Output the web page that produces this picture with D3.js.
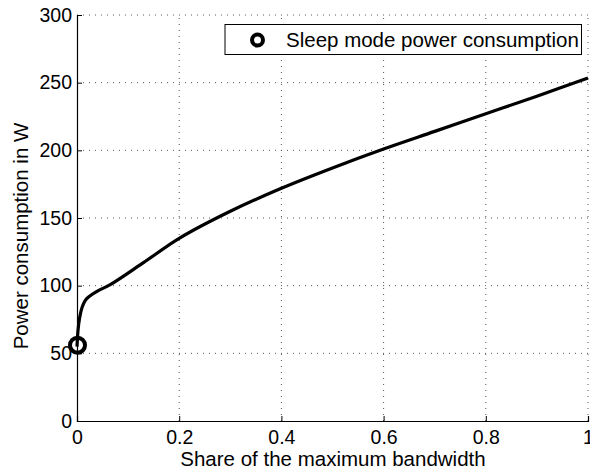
<!DOCTYPE html>
<html><head><meta charset="utf-8">
<script src="https://cdn.jsdelivr.net/npm/d3@7"></script>
<style>body{margin:0;background:#fff}svg{display:block}text{font-family:"Liberation Sans",Arial,sans-serif;fill:#000}</style>
</head><body><svg id="c" width="590" height="469"></svg>
<script>
const shareValues = [0, 0.002, 0.005, 0.01, 0.016, 0.022, 0.04, 0.065, 0.13, 0.2, 0.3, 0.4, 0.5, 0.6, 0.7, 0.8, 0.9, 1.0];
const powerValues = [55, 67, 76, 84, 89, 91.5, 96, 100.7, 117, 135, 155, 172, 187, 201, 214, 227, 240, 253.5];
const sleepPoint = [0, 56];
const xTicks = [0, 0.2, 0.4, 0.6, 0.8, 1];
const yTicks = [0, 50, 100, 150, 200, 250, 300];
const xLabel = "Share of the maximum bandwidth";
const yLabel = "Power consumption in W";
const legendLabel = "Sleep mode power consumption";

const svg = d3.select("#c");
const x = d3.scaleLinear().domain([0, 1]).range([77, 588]);
const y = d3.scaleLinear().domain([0, 300]).range([421, 15]);

// grid
const g = svg.append("g");
g.selectAll(".gx").data(xTicks.filter(d => d > 0)).enter().append("line")
  .attr("x1", d => x(d)).attr("x2", d => x(d)).attr("y1", y(0)).attr("y2", y(300))
  .attr("stroke", "#555").attr("stroke-width", 1).attr("stroke-dasharray", "1,5");
g.selectAll(".gy").data(yTicks.filter(d => d > 0)).enter().append("line")
  .attr("x1", x(0)).attr("x2", x(1)).attr("y1", d => y(d)).attr("y2", d => y(d))
  .attr("stroke", "#555").attr("stroke-width", 1).attr("stroke-dasharray", "1,5");

// axes
const xAxis = svg.append("g").attr("transform", `translate(0,${y(0)})`)
  .call(d3.axisBottom(x).tickValues(xTicks).tickFormat(d => d === 0 || d === 1 ? String(d) : d3.format(".1f")(d)).tickSize(-5).tickPadding(11));
const yAxis = svg.append("g").attr("transform", `translate(${x(0)},0)`)
  .call(d3.axisLeft(y).tickValues(yTicks).tickSize(-5).tickPadding(5));
[xAxis, yAxis].forEach(a => {
  a.select(".domain").attr("stroke", "#000").attr("stroke-width", 1.2);
  a.selectAll(".tick line").attr("stroke", "#000");
  a.selectAll(".tick text").style("font-size", "19.5px").style("font-family", '"Liberation Sans",Arial,sans-serif');
});
xAxis.selectAll(".tick text").attr("dy", "0.62em");

svg.append("text").attr("x", (x(0) + x(1)) / 2 + 0.5).attr("y", 466)
  .attr("text-anchor", "middle").style("font-size", "20.5px").text(xLabel);
svg.append("text").attr("transform", "translate(28,236) rotate(-90)")
  .attr("text-anchor", "middle").style("font-size", "20.5px").text(yLabel);

// curve
const line = d3.line().x((d, i) => x(shareValues[i])).y(d => y(d)).curve(d3.curveCatmullRom.alpha(0.5));
svg.append("path").datum(powerValues).attr("d", line)
  .attr("fill", "none").attr("stroke", "#000").attr("stroke-width", 3.2).attr("stroke-linejoin", "round");

// sleep marker
svg.append("circle").attr("cx", x(sleepPoint[0]) + 0.5).attr("cy", y(sleepPoint[1]))
  .attr("r", 7.5).attr("fill", "none").attr("stroke", "#000").attr("stroke-width", 4);

// legend
const lg = svg.append("g");
lg.append("rect").attr("x", 225).attr("y", 24.5).attr("width", 356.5).attr("height", 30)
  .attr("fill", "#fff").attr("stroke", "#000").attr("stroke-width", 1);
lg.append("circle").attr("cx", 257.5).attr("cy", 40).attr("r", 5.5)
  .attr("fill", "none").attr("stroke", "#000").attr("stroke-width", 4);
lg.append("text").attr("x", 286).attr("y", 47).style("font-size", "20.5px").text(legendLabel);
</script></body></html>
